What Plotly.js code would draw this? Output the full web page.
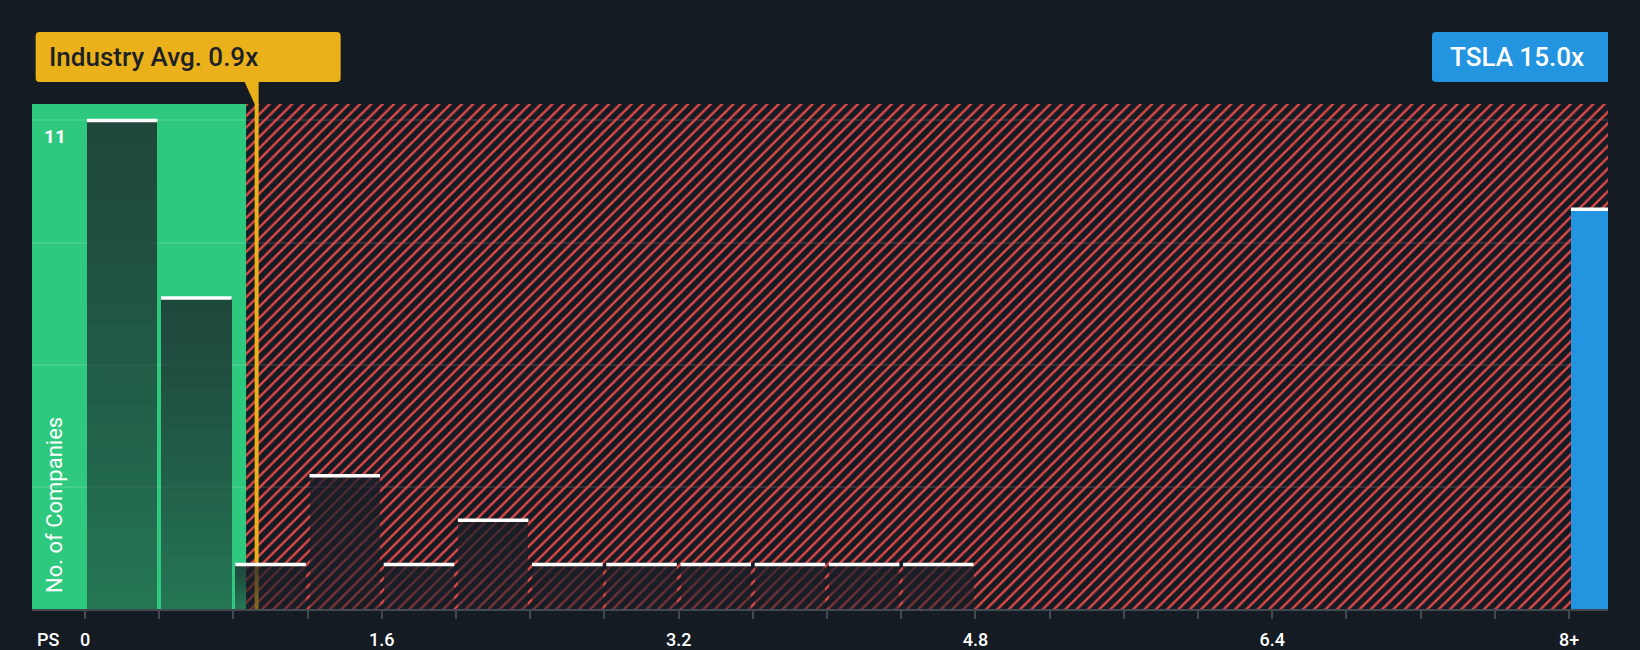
<!DOCTYPE html>
<html>
<head>
<meta charset="utf-8">
<script src="https://cdn.plot.ly/plotly-3.0.1.min.js"></script>
<style>
html,body{margin:0;padding:0;background:#151b23;}
#chart{width:1640px;height:650px;}
</style>
</head>
<body>
<div id="chart"></div>
<script>
// ---------- data ----------
const binStarts = [0, 0.4, 0.8, 1.2, 1.6, 2.0, 2.4, 2.8, 3.2, 3.6, 4.0, 4.4];
const binCounts = [11, 7, 1, 3, 1, 2, 1, 1, 1, 1, 1, 1];
const binWidth = 0.4;
const companyLabel = 'TSLA';
const companyPS = 15.0;
const companyBinStart = 8.0;
const companyBinCount = 9;
const industryAvg = 0.925;
const tickValues = [0, 0.4, 0.8, 1.2, 1.6, 2.0, 2.4, 2.8, 3.2, 3.6, 4.0, 4.4, 4.8, 5.2, 5.6, 6.0, 6.4, 6.8, 7.2, 7.6, 8.0];
const tickLabels = ['0', '', '', '', '1.6', '', '', '', '3.2', '', '', '', '4.8', '', '', '', '6.4', '', '', '', '8+'];
const yGridValues = [2.75, 5.5, 8.25, 11];
const yMaxLabel = 11;
const axisLabelY = 'No. of Companies';
const axisLabelX = 'PS';

// ---------- styling constants ----------
const BG = '#151b23';
const GREEN = '#2ec97e';
const ORANGE = '#ebb11b';
const BLUE = '#2394df';
const HATCH = '#e24848';
const FONT = 'Roboto, "Open Sans", sans-serif';
const xMin = -0.286, xMax = 8.21, yTop = 11.37;
const greenEnd = 0.868;
const barW = binWidth * 0.95;

const traces = [];

// hatched zone (main subplot)
traces.push({
  type: 'bar', x: [(greenEnd + xMax) / 2], y: [yTop], base: [0], width: [xMax - greenEnd],
  xaxis: 'x', yaxis: 'y',
  marker: {color: 'rgba(0,0,0,0)', line: {width: 0},
    pattern: {shape: '/', fgcolor: HATCH, bgcolor: 'rgba(0,0,0,0)', size: 8, solidity: 0.3, fillmode: 'replace'}},
  hoverinfo: 'skip'
});
// industry average line (main subplot, below the bars)
traces.push({
  type: 'scatter', mode: 'lines', x: [industryAvg, industryAvg], y: [0, yTop],
  xaxis: 'x', yaxis: 'y', line: {color: ORANGE, width: 4}, hoverinfo: 'skip'
});

// histogram bars with vertical fade (overlay subplot)
const centers = binStarts.map(s => s + binWidth / 2);
const SEG = 24;
for (let k = 0; k < SEG; k++) {
  const t = 1 - (k + 0.5) / SEG;
  const a = 0.76 - 0.28 * Math.pow(t, 1.3);
  traces.push({
    type: 'bar', x: centers,
    base: binCounts.map(c => c * k / SEG),
    y: binCounts.map(c => c / SEG),
    width: barW, xaxis: 'x', yaxis: 'y2',
    marker: {color: 'rgba(26,31,40,' + a.toFixed(3) + ')', line: {width: 0}},
    hoverinfo: 'skip'
  });
}
// company bar
const companyCenter = companyBinStart + binWidth / 2;
traces.push({
  type: 'bar', x: [companyCenter], y: [companyBinCount], base: [0], width: barW,
  xaxis: 'x', yaxis: 'y2', marker: {color: BLUE, line: {width: 0}}, hoverinfo: 'skip'
});
// white caps
const capX = [], capY = [];
binStarts.forEach((s, i) => {
  const c = s + binWidth / 2;
  capX.push(c - barW / 2, c + barW / 2, null);
  capY.push(binCounts[i], binCounts[i], null);
});
capX.push(companyCenter - barW / 2, companyCenter + barW / 2, null);
capY.push(companyBinCount, companyBinCount, null);
traces.push({
  type: 'scatter', mode: 'lines', x: capX, y: capY, xaxis: 'x', yaxis: 'y2',
  line: {color: '#ffffff', width: 3.5}, hoverinfo: 'skip', connectgaps: false
});

// label box paths (pixel offsets)
const r = 4, B = 22, T = 72;
const L = -221, R = 84;
const indPath = `M${L + r},${T} H${R - r} Q${R},${T} ${R},${T - r} V${B + r} Q${R},${B} ${R - r},${B} H2 V0 H-2 L-12,${B} H${L + r} Q${L},${B} ${L},${B + r} V${T - r} Q${L},${T} ${L + r},${T} Z`;
const TL = -176;
const coPath = `M${TL + r},${T} H0 V${B} H${TL + r} Q${TL},${B} ${TL},${B + r} V${T - r} Q${TL},${T} ${TL + r},${T} Z`;

const layout = {
  width: 1640, height: 650,
  paper_bgcolor: BG, plot_bgcolor: BG,
  margin: {l: 32, r: 32, t: 104, b: 41, pad: 0},
  showlegend: false, barmode: 'overlay', bargap: 0, bargroupgap: 0,
  font: {family: FONT, color: '#ffffff'},
  xaxis: {
    range: [xMin, xMax], tickmode: 'array', tickvals: tickValues, ticktext: tickLabels,
    ticks: 'outside', ticklen: 8, tickwidth: 2, tickcolor: '#434951',
    showline: true, linecolor: '#434951', linewidth: 2,
    showgrid: false, zeroline: false, fixedrange: true, ticklabelstandoff: 5,
    tickfont: {family: FONT, size: 18, color: '#ffffff', weight: 500}
  },
  yaxis: {
    range: [0, yTop], tickmode: 'array', tickvals: yGridValues, showticklabels: false,
    showgrid: true, gridcolor: 'rgba(255,255,255,0.1)', gridwidth: 2,
    zeroline: false, showline: false, ticks: '', fixedrange: true
  },
  yaxis2: {range: [0, yTop], overlaying: 'y', visible: false, fixedrange: true},
  shapes: [
    {type: 'rect', xref: 'x', yref: 'paper', x0: xMin, x1: greenEnd, y0: 0, y1: 1,
      fillcolor: GREEN, line: {width: 0}, layer: 'below'},
    {type: 'path', xref: 'x', xsizemode: 'pixel', xanchor: industryAvg,
      yref: 'paper', ysizemode: 'pixel', yanchor: 1, path: indPath,
      fillcolor: ORANGE, line: {width: 0}, layer: 'above'},
    {type: 'path', xref: 'paper', xsizemode: 'pixel', xanchor: 1,
      yref: 'paper', ysizemode: 'pixel', yanchor: 1, path: coPath,
      fillcolor: BLUE, line: {width: 0}, layer: 'above'}
  ],
  annotations: [
    {text: 'Industry Avg. ' + industryAvg.toFixed(1) + 'x', showarrow: false,
      xref: 'x', x: industryAvg, xanchor: 'left', xshift: -210,
      yref: 'paper', y: 1, yanchor: 'middle', yshift: 47,
      font: {family: FONT, size: 26, color: '#1c2128', weight: 500}},
    {text: companyLabel + ' ' + companyPS.toFixed(1) + 'x', showarrow: false,
      xref: 'paper', x: 1, xanchor: 'left', xshift: -160,
      yref: 'paper', y: 1, yanchor: 'middle', yshift: 47,
      font: {family: FONT, size: 26, color: '#ffffff', weight: 500}},
    {text: String(yMaxLabel), showarrow: false,
      xref: 'paper', x: 0, xanchor: 'left', xshift: 10,
      yref: 'y', y: yMaxLabel, yanchor: 'middle', yshift: -16,
      font: {family: FONT, size: 19, color: '#ffffff', weight: 'bold'}},
    {text: axisLabelY, showarrow: false, textangle: -90,
      xref: 'paper', x: 0, xanchor: 'center', xshift: 22,
      yref: 'paper', y: 0, yanchor: 'bottom', yshift: 14,
      font: {family: FONT, size: 22, color: '#ffffff'}},
    {text: axisLabelX, showarrow: false, borderpad: 0,
      xref: 'paper', x: 0, xanchor: 'center', xshift: 16,
      yref: 'paper', y: 0, yanchor: 'middle', yshift: -30,
      font: {family: FONT, size: 18, color: '#ffffff', weight: 500}}
  ]
};

Plotly.newPlot('chart', traces, layout, {displayModeBar: false, staticPlot: true});
</script>
</body>
</html>
